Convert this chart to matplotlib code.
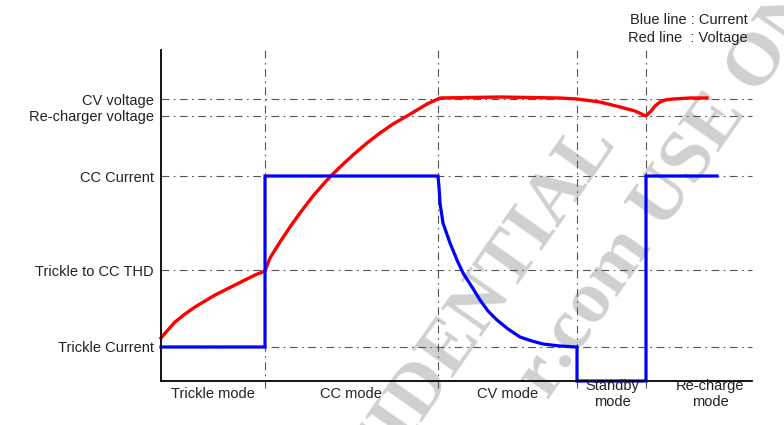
import matplotlib
matplotlib.use("Agg")
from matplotlib import pyplot as plt

plt.rcParams['font.family'] = ['Liberation Sans', 'DejaVu Sans']

# levels on the vertical axis
level_names = ["Trickle Current", "Trickle to CC THD", "CC Current",
               "Re-charger voltage", "CV voltage"]
level_values = [34, 111, 205, 265, 282]

# mode boundaries along time axis
mode_edges = [104, 277, 416, 485]
mode_names = ["Trickle mode", "CC mode", "CV mode", "Standby\nmode", "Re-charge\nmode"]
mode_centers = [52, 190, 347, 451, 549]

# red line: voltage
volt_t = [0, 6, 14, 24, 34, 44, 54, 64, 74, 84, 94, 104,
          109, 119, 129, 139, 152, 166, 179, 192, 206, 219, 232, 246, 256, 266, 279,
          339, 399, 416, 439, 459, 474, 485,
          488, 491, 494, 499, 504, 512, 529, 546]
volt_v = [43, 50, 59, 67, 74, 80, 86, 91, 96, 101, 106, 110,
          123, 139, 154, 168, 185, 201, 214, 226, 238, 248, 257, 265, 271, 277, 283,
          284, 283, 282, 279, 274, 270, 265,
          268, 271, 275, 279, 281, 282, 283, 283]

# blue line: current
curr_t = [0, 104, 104, 277, 278, 279, 282, 289, 296, 302, 311, 319, 327, 336, 347,
          359, 371, 382, 399, 416, 416, 485, 485, 556]
curr_i = [34, 34, 205, 205, 194, 178, 158, 138, 121, 108, 94, 81, 70, 61, 52,
          44, 40, 37, 35, 34, 0, 0, 205, 205]

fig = plt.figure(figsize=(7.84, 4.25), dpi=100)
fig.patch.set_facecolor('white')
ax = fig.add_axes([161 / 784, 44 / 425, 591 / 784, 331 / 425])
ax.patch.set_alpha(0)

# watermark
wm = dict(color='#d0d0d0', fontsize=54, fontweight='bold', family='Liberation Serif',
          rotation=55, rotation_mode='anchor', zorder=-5)
fig.text(617 / 784, 1 - 140 / 425, "CONFIDENTIAL", ha='right', va='baseline', **wm)
fig.text(566 / 784, 1 - 372 / 425, "r", ha='right', va='baseline', **wm)
fig.text(566 / 784, 1 - 372 / 425, ".com USE ONLY", ha='left', va='baseline', **wm)

ref_style = dict(color='#555555', lw=0.8, linestyle=(0, (7, 4, 1.5, 4)))
for lv in level_values:
    ax.plot([0, 591], [lv, lv], clip_on=False, **ref_style)
for e in mode_edges:
    ax.plot([e, e], [-7, 333], clip_on=False, **ref_style)

ax.plot(volt_t, volt_v, color='#ff0000', lw=2.4, clip_on=False, solid_joinstyle='round')
ax.plot(curr_t, curr_i, color='#0000ff', lw=2.3, clip_on=False, solid_joinstyle='miter')

ax.set_xlim(0, 591)
ax.set_ylim(0, 331)
ax.spines['top'].set_visible(False)
ax.spines['right'].set_visible(False)
ax.spines['left'].set_linewidth(1.3)
ax.spines['bottom'].set_linewidth(1.3)
ax.set_xticks([])
ax.set_yticks(level_values)
ax.set_yticklabels(level_names, fontsize=10.5, color='#222222')
ax.tick_params(axis='y', length=0, pad=5)

for c, name in zip(mode_centers, mode_names):
    ax.text(c, -13, name, ha='center', va='center', fontsize=10.5,
            color='#222222', linespacing=1.15)

fig.text(748 / 784, 1 - 20 / 425, "Blue line : Current", ha='right', va='center',
         fontsize=10.5, color='#222222')
fig.text(748 / 784, 1 - 38 / 425, "Red line  : Voltage", ha='right', va='center',
         fontsize=10.5, color='#222222')

fig.savefig("out.png", dpi=100)
